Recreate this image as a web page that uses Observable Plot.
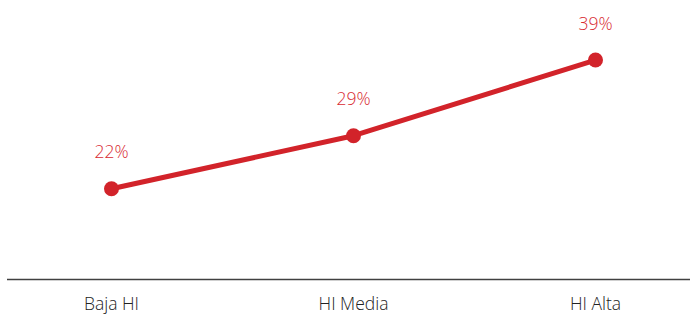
<!DOCTYPE html>
<html>
<head>
<meta charset="utf-8">
<script src="https://cdn.jsdelivr.net/npm/d3@7"></script>
<script src="https://cdn.jsdelivr.net/npm/@observablehq/plot@0.6"></script>
<style>
  html, body { margin: 0; padding: 0; background: #fff; }
  #chart svg { display: block; }
</style>
</head>
<body>
<div id="chart"></div>
<script>
const categories = ["Baja HI", "HI Media", "HI Alta"];
const values = [22, 29, 39];
const labels = ["22%", "29%", "39%"];

const data = categories.map((c, i) => ({cat: c, value: values[i], label: labels[i]}));

const red = "#d2232a";

const chart = Plot.plot({
  width: 693,
  height: 316,
  marginLeft: 7,
  marginRight: 3,
  marginTop: 52,
  marginBottom: 37,
  style: {fontFamily: "'Open Sans', sans-serif", fontSize: "17px", fontWeight: 300, background: "#fff"},
  x: {type: "point", domain: categories, range: [111, 595], padding: 0, label: null},
  y: {domain: [10, 40], axis: null},
  marks: [
    Plot.ruleY([10], {stroke: "#404040", strokeWidth: 1.5}),
    Plot.axisX({tickSize: 0, tickPadding: 18, fontSize: 17.5, fontWeight: 300, color: "#222", label: null}),
    Plot.line(data, {x: "cat", y: "value", stroke: red, strokeWidth: 5}),
    Plot.dot(data, {x: "cat", y: "value", r: 7.5, fill: red}),
    Plot.text(data, {x: "cat", y: "value", text: "label", dy: -36, fill: "#d82a31", fontSize: 17.5, fontWeight: 300})
  ]
});
document.getElementById("chart").appendChild(chart);
</script>
</body>
</html>
